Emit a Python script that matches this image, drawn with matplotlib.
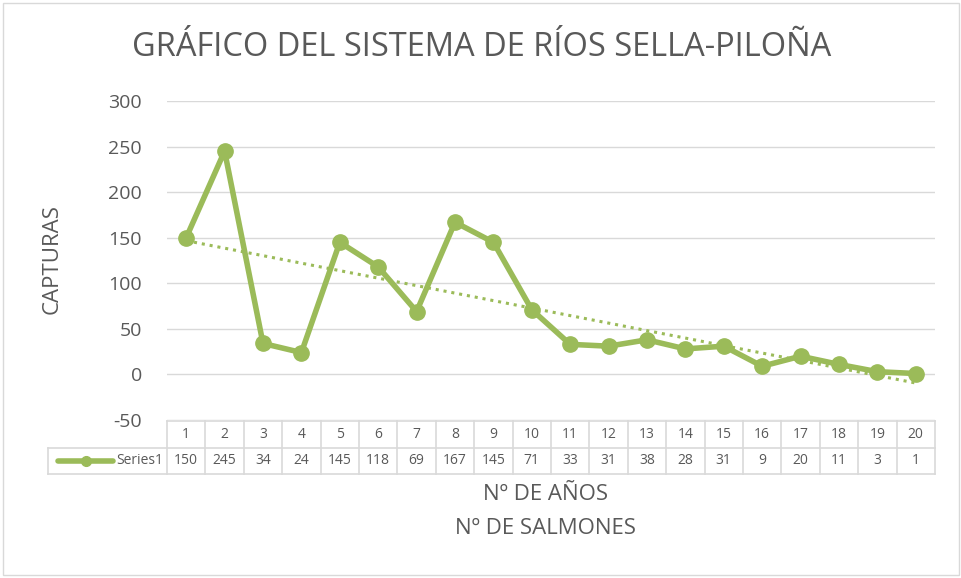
import matplotlib
matplotlib.use("Agg")
import matplotlib.pyplot as plt
import numpy as np

plt.rcParams['font.family'] = ['Open Sans', 'DejaVu Sans']
plt.rcParams['axes.unicode_minus'] = False

years = list(range(1, 21))
catches = [150, 245, 34, 24, 145, 118, 69, 167, 145, 71, 33, 31, 38, 28, 31, 9, 20, 11, 3, 1]
series_name = "Series1"
title = "GRÁFICO DEL SISTEMA DE RÍOS SELLA-PILOÑA"
y_label = "CAPTURAS"
x_label = ["Nº DE AÑOS", "Nº DE SALMONES"]
y_ticks = [-50, 0, 50, 100, 150, 200, 250, 300]

green = '#9BBB59'
text_col = '#595959'
grid_col = '#D9D9D9'

W, H = 962, 578
fig = plt.figure(figsize=(W / 100, H / 100), dpi=100)

# plot area in pixels
px_l, px_r, px_t, px_b = 167, 935, 101, 420
ax = fig.add_axes([px_l / W, 1 - px_b / H, (px_r - px_l) / W, (px_b - px_t) / H])

x = np.array(years)
y = np.array(catches)
ax.plot(x, y, color=green, lw=4, marker='o', ms=11, zorder=3, solid_joinstyle='round')

# linear trendline
k, b = np.polyfit(x, y, 1)
ax.plot(x, k * x + b, color=green, lw=2.2, ls=(0, (1, 1.6)), zorder=2)

ax.set_xlim(0.5, 20.5)
ax.set_ylim(-50, 300)
ax.set_yticks(y_ticks)
ax.yaxis.grid(True, color=grid_col, lw=1)
ax.set_axisbelow(True)
for s in ax.spines.values():
    s.set_visible(False)
ax.tick_params(axis='y', length=0, labelsize=14, colors=text_col, pad=18)
ax.tick_params(axis='x', length=0, labelbottom=False)

fig.text(482 / W, 1 - 47 / H, title, ha='center', va='center', fontsize=23.5, color=text_col)
fig.text(52 / W, 1 - 259 / H, y_label, ha='center', va='center', rotation=90,
         fontsize=16, color=text_col)

# data table under the plot
row_t, row_m, row_b = 421, 447, 474
tab = fig.add_axes([px_l / W, 1 - row_b / H, (px_r - px_l) / W, (row_b - row_t) / H])
tab.set_xlim(0.5, 20.5)
tab.set_ylim(0, 2)
tab.axis('off')
cw = (px_r - px_l) / 20
left_x = 0.5 - (px_l - 48) / cw
lc = '#D9D9D9'
for i in range(21):
    tab.plot([i + 0.5, i + 0.5], [0, 2], color=lc, lw=1.2, clip_on=False)
tab.plot([0.5, 20.5], [2, 2], color=lc, lw=1.2, clip_on=False)
tab.plot([left_x, 20.5], [1, 1], color=lc, lw=1.2, clip_on=False)
tab.plot([left_x, 20.5], [0, 0], color=lc, lw=1.2, clip_on=False)
tab.plot([left_x, left_x], [0, 1], color=lc, lw=1.2, clip_on=False)
for yr, v in zip(years, catches):
    tab.text(yr, 1.5, str(yr), ha='center', va='center', fontsize=10, color=text_col)
    tab.text(yr, 0.5, str(v), ha='center', va='center', fontsize=10, color=text_col)
# legend key inside the first cell
kx0 = left_x + 10 / cw
kx1 = left_x + 65 / cw
tab.plot([kx0, kx1], [0.5, 0.5], color=green, lw=4, clip_on=False, solid_capstyle='round')
tab.plot([(kx0 + kx1) / 2], [0.5], 'o', color=green, ms=7, clip_on=False)
tab.text(0.5 - 4 / cw, 0.5, series_name, ha='right', va='center', fontsize=10, color=text_col)

fig.text(546 / W, 1 - 495 / H, x_label[0], ha='center', va='center',
         fontsize=16, color=text_col)
fig.text(546 / W, 1 - 529 / H, x_label[1], ha='center', va='center',
         fontsize=16, color=text_col)

# outer chart border
fig.add_artist(plt.Rectangle((3 / W, 3 / H), 1 - 6 / W, 1 - 6 / H, transform=fig.transFigure,
                             fill=False, edgecolor='#D9D9D9', lw=1))

fig.savefig("out.png", dpi=100)
